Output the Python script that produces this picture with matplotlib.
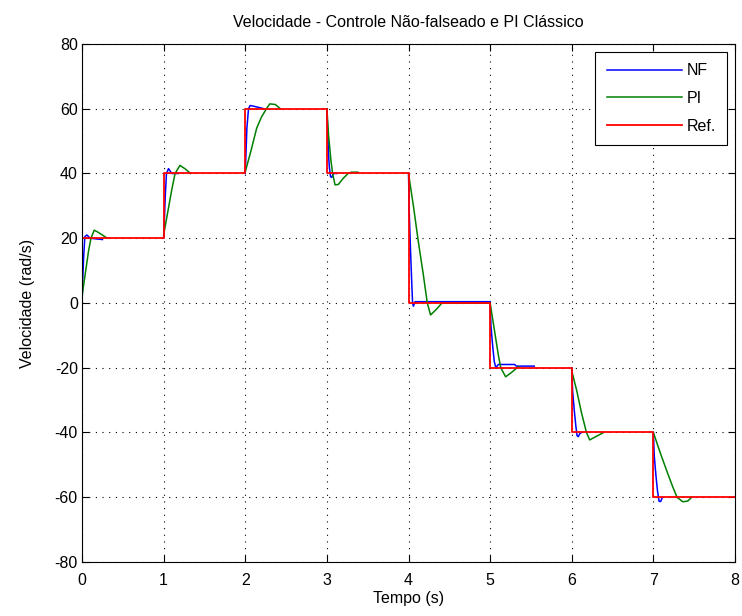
import numpy as np
import matplotlib
matplotlib.use("Agg")
import matplotlib.pyplot as plt

plt.rcParams['font.family'] = ['Liberation Sans', 'DejaVu Sans']
plt.rcParams['axes.unicode_minus'] = False

# reference speed (rad/s), one value per second
ref_t = [0, 1, 2, 3, 4, 5, 6, 7, 8]
ref_v = [20, 40, 60, 40, 0, -20, -40, -60, -60]

# non-aliased control (NF), one list per step
nf_t = [
	[0, 0.01, 0.02, 0.035, 0.06, 0.1, 0.25],
	[1, 1.01, 1.02, 1.035, 1.06, 1.1, 1.18],
	[2, 2.01, 2.02, 2.04, 2.06, 2.1, 2.23],
	[3, 3.01, 3.02, 3.03, 3.045, 3.06, 3.08, 3.12],
	[4, 4.01, 4.025, 4.04, 4.05, 4.06, 4.08, 5.0],
	[5, 5.01, 5.03, 5.05, 5.07, 5.1, 5.3, 5.32, 5.54],
	[6, 6.01, 6.03, 6.05, 6.065, 6.08, 6.1, 6.12],
	[7, 7.01, 7.03, 7.05, 7.07, 7.09, 7.11],
]
nf_v = [
	[0, 8, 14, 20.5, 21, 20, 19.6],
	[20, 26, 33, 40, 41.5, 40, 40],
	[40, 47, 54, 60, 61, 60.8, 60],
	[60, 53, 46, 42, 39, 38.8, 40, 40],
	[40, 27, 16, 6, 0, -1, 0.4, 0.4],
	[0, -7, -13, -18, -20, -19.0, -19.0, -19.5, -19.5],
	[-20, -27, -33, -38, -41, -41.3, -40.3, -40],
	[-40, -47, -53, -58, -61.3, -61.3, -60],
]

# classic PI
pi_t = [
	[0, 0.04, 0.08, 0.11, 0.15, 0.2, 0.31],
	[1, 1.05, 1.1, 1.14, 1.2, 1.26, 1.33],
	[2, 2.07, 2.14, 2.2, 2.26, 2.3, 2.37, 2.43],
	[3, 3.02, 3.05, 3.07, 3.1, 3.14, 3.2, 3.26, 3.3, 3.38],
	[4, 4.06, 4.12, 4.18, 4.23, 4.27, 4.34, 4.41, 5.0],
	[5, 5.05, 5.1, 5.13, 5.19, 5.26, 5.33, 5.35],
	[6, 6.06, 6.12, 6.18, 6.22, 6.3, 6.39],
	[7, 7.08, 7.17, 7.24, 7.29, 7.36, 7.42, 7.47],
]
pi_v = [
	[2, 9, 16, 20, 22.5, 21.8, 20],
	[21, 28, 35, 40, 42.5, 41.5, 40],
	[40.5, 47, 54, 57.5, 60, 61.5, 61.3, 60],
	[60, 52, 44, 40, 36.5, 36.6, 38.5, 40, 40.4, 40.4],
	[40, 30, 19, 9, 0, -3.7, -2, 0, 0],
	[0, -8, -16, -20, -22.8, -21.5, -20, -19.7],
	[-21, -27, -34, -40, -42.3, -41.2, -40],
	[-40, -46, -52.3, -57, -60, -61.4, -61.2, -60],
]

def join_segments(ts, vs):
	# one line per series, segments split by nan
	t_all = []
	v_all = []
	for t, v in zip(ts, vs):
		t_all += list(t) + [np.nan]
		v_all += list(v) + [np.nan]
	return t_all, v_all

fig = plt.figure(figsize=(7.42, 6.16), dpi=100)
ax = fig.add_axes([0.1105, 0.0877, 0.8801, 0.8409])

t, v = join_segments(nf_t, nf_v)
ax.plot(t, v, color=(0, 0, 1), lw=1.1, label="NF")
t, v = join_segments(pi_t, pi_v)
ax.plot(t, v, color=(0, 0.5, 0), lw=1.1, label="PI")
ax.plot(ref_t, ref_v, color=(1, 0, 0), lw=1.3, drawstyle="steps-post", label="Ref.")

ax.set_xlim(0, 8)
ax.set_ylim(-80, 80)
ax.set_xticks(range(0, 9))
ax.set_yticks(range(-80, 81, 20))
ax.grid(True, color="black", lw=0.8, ls=(0, (1, 5)))
ax.tick_params(direction="in", top=True, right=True, length=5, labelsize=11.5)
ax.tick_params(axis="x", pad=8)
ax.tick_params(axis="y", pad=3)
for s in ax.spines.values():
	s.set_linewidth(0.8)

ax.set_title("Velocidade - Controle Não-falseado e PI Clássico", fontsize=11.5, pad=12)
ax.set_xlabel("Tempo (s)", fontsize=11.5, labelpad=2)
ax.set_ylabel("Velocidade (rad/s)", fontsize=11.5, labelpad=14)

leg = ax.legend(loc="upper right", fontsize=11.5, handlelength=4.7, labelspacing=0.8,
	fancybox=False, framealpha=1, edgecolor="black", borderaxespad=0.5,
	handletextpad=0.3, borderpad=0.7)
leg.get_frame().set_linewidth(0.8)

fig.savefig("out.png", dpi=100)
